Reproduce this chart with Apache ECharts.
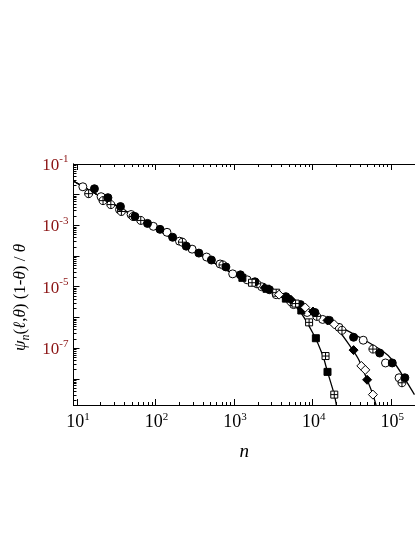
<!DOCTYPE html>
<html><head><meta charset="utf-8">
<script src="https://cdn.jsdelivr.net/npm/echarts@6/dist/echarts.min.js"></script>
<style>html,body{margin:0;padding:0;background:#fff}#c{width:415px;height:537px}</style>
</head><body><div id="c"></div>
<script>
// ---- axis ranges / ticks ----
const X_MIN = 9.05, X_MAX = 200000;
const Y_MIN = 1.4e-9, Y_MAX = 0.1;
const xMajorTicks = [10, 100, 1000, 10000, 100000];
const yMajorTicks = [1e-8, 1e-7, 1e-6, 1e-5, 1e-4, 1e-3, 1e-2, 1e-1];
const yLabelTicks = [1e-7, 1e-5, 1e-3, 1e-1];
const minorMultipliers = [2, 3, 4, 5, 6, 7, 8, 9];

// ---- solid curves [n, value] ----
const curveLong = [[9,0.028],[100,8.0e-4],[1000,2.55e-5],[3950,4.75e-6],[6970,2.26e-6],[12280,1.0e-6],[21600,5.13e-7],[41500,2.1e-7],[77400,8.0e-8],[102800,4.1e-8],[148600,1.0e-8],[197000,3.05e-9]];
const curveMid = [[9,0.028],[100,8.0e-4],[1000,2.55e-5],[3950,4.75e-6],[6970,2.26e-6],[12280,1.0e-6],[16300,6.4e-7],[21600,3.53e-7],[28700,1.35e-7],[38100,4.42e-8],[49200,9.3e-9],[58300,3.05e-9],[63500,1.45e-9],[65300,1.0e-9]];
const curveShort = [[9,0.028],[100,8.0e-4],[1000,2.55e-5],[3950,4.75e-6],[6580,1.81e-6],[10070,3.05e-7],[13370,5.94e-8],[15420,1.68e-8],[18800,3.05e-9],[20460,1.0e-9]];

// ---- markers [n, value] ----
const openCircles = [[11.9,0.0181],[20.3,8.6e-3],[34.8,3.28e-3],[48.9,2.26e-3],[93.8,9.3e-4],[140,5.94e-4],[202,3.05e-4],[292,1.68e-4],[446,9.3e-5],[663,5.52e-5],[959,2.63e-5],[1466,1.68e-5],[2244,1.0e-5],[3430,5.52e-6],[5710,2.62e-6],[8490,1.45e-6],[13370,8.6e-7],[21600,4.75e-7],[43900,1.81e-7],[84300,3.28e-8],[125400,1.08e-8]];
const filledCircles = [[16.7,0.0156],[24.8,8.0e-3],[35.8,4.1e-3],[54.7,1.95e-3],[79.1,1.16e-3],[114,7.43e-4],[165,4.1e-4],[246,2.1e-4],[356,1.25e-4],[514,7.43e-5],[786,4.42e-5],[1202,2.44e-5],[1840,1.45e-5],[2813,8.0e-6],[4550,4.75e-6],[6970,2.62e-6],[10660,1.45e-6],[16300,8.0e-7],[33100,2.26e-7],[71100,6.9e-8],[102800,3.28e-8],[148600,1.08e-8]];
const crossedCircles = [[14.1,0.0108],[21.5,6.4e-3],[27.0,4.75e-3],[36.8,2.83e-3],[51.7,1.95e-3],[64.9,1.45e-3],[220,2.83e-4],[721,5.13e-5],[1946,1.25e-5],[5250,3.28e-6],[11270,1.08e-6],[23550,3.81e-7],[58300,9.3e-8],[136500,7.43e-9]];
const filledSquares = [[1274,1.95e-5],[2580,8.6e-6],[4550,4.1e-6],[7160,1.68e-6],[10960,2.1e-7],[15420,1.68e-8]];
const crossedSquares = [[1690,1.35e-5],[3430,6.4e-6],[6050,2.83e-6],[8990,6.9e-7],[14550,5.52e-8],[18800,3.05e-9]];
const filledDiamonds = [[2443,9.3e-6],[5250,3.81e-6],[10070,1.56e-6],[15420,8.0e-7],[33100,8.6e-8],[49200,9.3e-9]];
const openDiamonds = [[3730,5.52e-6],[8030,2.1e-6],[18800,5.94e-7],[41500,2.63e-8],[46600,1.95e-8],[58300,3.05e-9]];

// minor tick positions
function minorTicks(dFrom, dTo, lo, hi) {
  const out = [];
  for (let d = dFrom; d <= dTo; d++) for (const k of minorMultipliers) {
    const v = k * Math.pow(10, d);
    if (v >= lo && v <= hi) out.push(v);
  }
  return out;
}
const xMinorTicks = minorTicks(0, 5, X_MIN, X_MAX);
const yMinorTicks = minorTicks(-9, -2, Y_MIN, Y_MAX);

const SERIF = 'Liberation Serif';
const black = '#000';
const expFmt = v => '{b|10}{s|' + Math.round(Math.log10(v)) + '}';

function xAx(pos, ticks, len, labels) {
  return {
    type: 'log', logBase: 10, min: X_MIN, max: X_MAX, position: pos, gridIndex: 0,
    axisLine: {show: true, onZero: false, lineStyle: {color: black, width: 1}},
    axisTick: {show: true, inside: true, length: len, customValues: ticks, lineStyle: {color: black, width: 1}},
    axisLabel: labels ? {
      show: true, customValues: xMajorTicks, formatter: expFmt, margin: 7,
      rich: {b: {fontFamily: SERIF, fontSize: 18, color: black, padding: [0, 0, 0, 2]},
             s: {fontFamily: SERIF, fontSize: 11, color: black, padding: [0, 0, 10, 0]}}
    } : {show: false},
    splitLine: {show: false}, minorTick: {show: false}, minorSplitLine: {show: false}
  };
}
function yAx(pos, ticks, len, labels) {
  return {
    type: 'log', logBase: 10, min: Y_MIN, max: Y_MAX, position: pos, gridIndex: 0,
    axisLine: {show: true, onZero: false, lineStyle: {color: black, width: 1}},
    axisTick: {show: true, inside: true, length: len, customValues: ticks, lineStyle: {color: black, width: 1}},
    axisLabel: labels ? {
      show: true, customValues: yLabelTicks, formatter: expFmt, margin: 5,
      rich: {b: {fontFamily: SERIF, fontSize: 17, color: '#8b1414', padding: [3, 0, 0, 0]},
             s: {fontFamily: SERIF, fontSize: 11, color: '#8b1414', padding: [0, 0, 9, 0]}}
    } : {show: false},
    splitLine: {show: false}, minorTick: {show: false}, minorSplitLine: {show: false}
  };
}

const xAxes = [xAx('bottom', xMajorTicks, 6, true), xAx('bottom', xMinorTicks, 3, false),
               xAx('top', xMajorTicks, 6, false), xAx('top', xMinorTicks, 3, false)];
xAxes[0].name = 'n';
xAxes[0].nameLocation = 'middle';
xAxes[0].nameGap = 37;
xAxes[0].nameTextStyle = {fontFamily: SERIF, fontStyle: 'italic', fontSize: 19, color: black};

const yAxes = [yAx('left', yMajorTicks, 6, true), yAx('left', yMinorTicks, 3, false)];
yAxes[0].name = '{i|ψ}{sub|n}{t|(}{i|ℓ}{t|,}{i|θ}{t|) (1-}{i|θ}{t|) / }{i|θ}';
yAxes[0].nameLocation = 'middle';
yAxes[0].nameRotate = 90;
yAxes[0].nameGap = 42;
yAxes[0].nameTextStyle = {
  fontFamily: SERIF, fontSize: 17, color: black, padding: [0, 26, 0, 0],
  rich: {
    i: {fontFamily: SERIF, fontStyle: 'italic', fontSize: 17, color: black},
    t: {fontFamily: SERIF, fontSize: 17, color: black},
    sub: {fontFamily: SERIF, fontStyle: 'italic', fontSize: 12, color: black, padding: [9, 0, 0, 0]}
  }
};

const crossCirclePath = 'path://M0,-10 C5.52,-10 10,-5.52 10,0 C10,5.52 5.52,10 0,10 C-5.52,10 -10,5.52 -10,0 C-10,-5.52 -5.52,-10 0,-10 Z M-10,0 L10,0 M0,-10 L0,10';
const crossSquarePath = 'path://M-10,-10 L10,-10 L10,10 L-10,10 Z M-10,0 L10,0 M0,-10 L0,10';

function lineS(data) {
  return {type: 'line', data, showSymbol: false, symbol: 'none', smooth: 0.25, clip: true,
          lineStyle: {color: black, width: 1.3}, z: 2, silent: true};
}
function scat(data, symbol, fill, size) {
  return {type: 'scatter', data, symbol, symbolSize: size, clip: true, z: 3,
          itemStyle: {color: fill, borderColor: black, borderWidth: 1, opacity: 1}};
}

const chart = echarts.init(document.getElementById('c'), null, {renderer: 'canvas'});
chart.setOption({
  animation: false,
  backgroundColor: '#fff',
  grid: {left: 73.5, top: 164, width: 349.7, height: 241, containLabel: false},
  xAxis: xAxes,
  yAxis: yAxes,
  series: [
    lineS(curveLong), lineS(curveMid), lineS(curveShort),
    scat(openCircles, 'circle', '#fff', 8),
    scat(crossedCircles, crossCirclePath, '#fff', 8),
    scat(filledCircles, 'circle', black, 8),
    scat(crossedSquares, crossSquarePath, '#fff', 7),
    scat(filledSquares, 'rect', black, 7),
    scat(openDiamonds, 'diamond', '#fff', 9),
    scat(filledDiamonds, 'diamond', black, 9)
  ]
});
</script>
</body></html>
